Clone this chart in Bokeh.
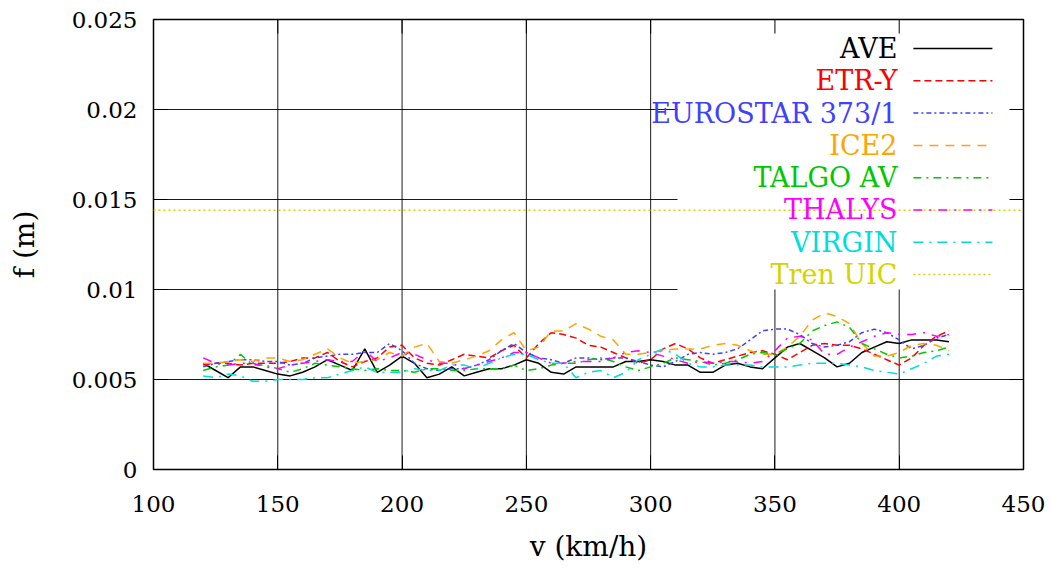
from bokeh.plotting import figure
from bokeh.models import Range1d, FixedTicker
from bokeh.core.properties import value
from bokeh.embed import file_html
from bokeh.resources import INLINE

# ---------------- data ----------------
speed = list(range(120, 425, 5))  # v (km/h)

ave = [0.0059, 0.0055, 0.0051, 0.0057, 0.0057, 0.0055, 0.0053, 0.0052, 0.0054, 0.0057,
       0.0061, 0.0058, 0.0055, 0.0067, 0.0054, 0.0058, 0.0063, 0.0059, 0.0051, 0.0053,
       0.0057, 0.0052, 0.0054, 0.0056, 0.0056, 0.0058, 0.0061, 0.0059, 0.0054, 0.0053,
       0.0057, 0.0057, 0.0057, 0.0057, 0.0060, 0.0060, 0.0061, 0.0060, 0.0058, 0.0058,
       0.0054, 0.0054, 0.0058, 0.0059, 0.0057, 0.0056, 0.0062, 0.0068, 0.0070, 0.0066,
       0.0062, 0.0057, 0.0059, 0.0065, 0.0068, 0.0071, 0.0070, 0.0072, 0.0072, 0.0072,
       0.0071]
etr_y = [0.0058, 0.0059, 0.0059, 0.0058, 0.0059, 0.0059, 0.0059, 0.0060, 0.0062, 0.0062,
         0.0065, 0.0060, 0.0057, 0.0060, 0.0062, 0.0068, 0.0069, 0.0062, 0.0059, 0.0058,
         0.0061, 0.0064, 0.0063, 0.0062, 0.0066, 0.0069, 0.0062, 0.0070, 0.0076, 0.0075,
         0.0073, 0.0069, 0.0068, 0.0065, 0.0062, 0.0059, 0.0061, 0.0067, 0.0070, 0.0067,
         0.0062, 0.0059, 0.0061, 0.0063, 0.0065, 0.0066, 0.0064, 0.0061, 0.0065, 0.0069,
         0.0070, 0.0069, 0.0069, 0.0067, 0.0064, 0.0061, 0.0058, 0.0062, 0.0069, 0.0074,
         0.0077]
eurostar = [0.0057, 0.0059, 0.0060, 0.0061, 0.0061, 0.0060, 0.0060, 0.0058, 0.0059, 0.0062,
            0.0063, 0.0064, 0.0064, 0.0065, 0.0065, 0.0070, 0.0066, 0.0059, 0.0056, 0.0055,
            0.0056, 0.0056, 0.0058, 0.0061, 0.0066, 0.0070, 0.0065, 0.0062, 0.0061, 0.0059,
            0.0062, 0.0062, 0.0061, 0.0062, 0.0062, 0.0060, 0.0058, 0.0057, 0.0060, 0.0064,
            0.0065, 0.0064, 0.0065, 0.0067, 0.0072, 0.0077, 0.0078, 0.0078, 0.0075, 0.0070,
            0.0068, 0.0069, 0.0071, 0.0076, 0.0078, 0.0076, 0.0072, 0.0067, 0.0069, 0.0073,
            0.0075]
ice2 = [0.0059, 0.0059, 0.0060, 0.0061, 0.0060, 0.0062, 0.0062, 0.0060, 0.0061, 0.0064,
        0.0067, 0.0062, 0.0059, 0.0060, 0.0061, 0.0065, 0.0063, 0.0068, 0.0070, 0.0060,
        0.0059, 0.0061, 0.0063, 0.0066, 0.0072, 0.0076, 0.0066, 0.0068, 0.0077, 0.0077,
        0.0081, 0.0078, 0.0074, 0.0072, 0.0064, 0.0064, 0.0065, 0.0066, 0.0067, 0.0067,
        0.0067, 0.0069, 0.0070, 0.0069, 0.0066, 0.0064, 0.0064, 0.0068, 0.0074, 0.0083,
        0.0087, 0.0085, 0.0081, 0.0070, 0.0063, 0.0063, 0.0065, 0.0069, 0.0070, 0.0069,
        0.0066]
talgo = [0.0055, 0.0057, 0.0058, 0.0064, 0.0058, 0.0058, 0.0056, 0.0054, 0.0056, 0.0059,
         0.0058, 0.0057, 0.0056, 0.0055, 0.0056, 0.0055, 0.0055, 0.0054, 0.0056, 0.0056,
         0.0055, 0.0055, 0.0056, 0.0056, 0.0056, 0.0058, 0.0055, 0.0056, 0.0058, 0.0059,
         0.0059, 0.0061, 0.0062, 0.0060, 0.0057, 0.0055, 0.0057, 0.0059, 0.0062, 0.0061,
         0.0060, 0.0058, 0.0059, 0.0061, 0.0064, 0.0065, 0.0064, 0.0067, 0.0070, 0.0077,
         0.0080, 0.0082, 0.0079, 0.0070, 0.0067, 0.0064, 0.0062, 0.0063, 0.0065, 0.0066,
         0.0068]
thalys = [0.0062, 0.0059, 0.0058, 0.0059, 0.0059, 0.0057, 0.0056, 0.0058, 0.0059, 0.0060,
          0.0061, 0.0060, 0.0060, 0.0066, 0.0060, 0.0062, 0.0065, 0.0064, 0.0061, 0.0059,
          0.0059, 0.0056, 0.0058, 0.0060, 0.0062, 0.0065, 0.0065, 0.0062, 0.0059, 0.0059,
          0.0060, 0.0060, 0.0060, 0.0062, 0.0065, 0.0066, 0.0065, 0.0063, 0.0061, 0.0059,
          0.0060, 0.0059, 0.0060, 0.0060, 0.0059, 0.0060, 0.0066, 0.0073, 0.0074, 0.0072,
          0.0064, 0.0064, 0.0068, 0.0071, 0.0074, 0.0076, 0.0075, 0.0075, 0.0076, 0.0074,
          0.0075]
virgin = [0.0052, 0.0051, 0.0053, 0.0052, 0.0049, 0.0049, 0.0050, 0.0050, 0.0050, 0.0051,
          0.0051, 0.0053, 0.0055, 0.0057, 0.0054, 0.0054, 0.0054, 0.0056, 0.0055, 0.0055,
          0.0058, 0.0058, 0.0056, 0.0059, 0.0062, 0.0064, 0.0064, 0.0061, 0.0059, 0.0059,
          0.0051, 0.0054, 0.0055, 0.0051, 0.0054, 0.0061, 0.0064, 0.0067, 0.0064, 0.0059,
          0.0057, 0.0057, 0.0058, 0.0058, 0.0058, 0.0057, 0.0057, 0.0057, 0.0058, 0.0059,
          0.0059, 0.0059, 0.0058, 0.0057, 0.0055, 0.0054, 0.0053, 0.0056, 0.0059, 0.0063,
          0.0064]
uic_speed = [100, 450]
uic_f = [0.0144, 0.0144]

names = ["AVE", "ETR-Y", "EUROSTAR 373/1", "ICE2", "TALGO AV", "THALYS", "VIRGIN", "Tren UIC"]
series = [ave, etr_y, eurostar, ice2, talgo, thalys, virgin]
colors = ["#000000", "#ff0000", "#4040ff", "#ffa500", "#00c800", "#ff00ff", "#00dddd", "#d4d400"]
dashes = ["solid", "7 4", "5 3 2 3", "9 7", "8 5 2 5", "9 7 2 7", "10 6 2 6", "2 3"]

x_ticks = [100, 150, 200, 250, 300, 350, 400, 450]
y_ticks = [0, 0.005, 0.01, 0.015, 0.02, 0.025]
y_tick_labels = ["0", "0.005", "0.01", "0.015", "0.02", "0.025"]
x_title = "v (km/h)"
y_title = "f (m)"

FONT = "DejaVu Serif"

# ---------------- figure ----------------
X0, X1, Y0, Y1 = 100, 450, 0, 0.025
p = figure(width=1051, height=571, x_range=Range1d(X0, X1), y_range=Range1d(Y0, Y1),
           output_backend="svg", toolbar_location=None,
           min_border_left=153, min_border_right=28, min_border_top=19, min_border_bottom=102)
p.xgrid.visible = False
p.ygrid.visible = False
p.outline_line_color = "black"
p.outline_line_width = 1.5
p.background_fill_color = "white"
p.border_fill_color = "white"

for ax in (p.xaxis[0], p.yaxis[0]):
    ax.axis_line_color = None
    ax.major_tick_in = 14
    ax.major_tick_out = 0
    ax.minor_tick_line_color = None
    ax.major_tick_line_color = "black"
    ax.major_label_text_font = FONT
    ax.major_label_text_font_size = "23px"
    ax.major_label_text_color = "black"
    ax.axis_label_text_font = FONT
    ax.axis_label_text_font_size = "28px"
    ax.axis_label_text_font_style = "normal"
    ax.axis_label_text_color = "black"

xb = p.xaxis[0]
xb.ticker = FixedTicker(ticks=x_ticks)
xb.major_label_standoff = 26
xb.axis_label = x_title
xb.axis_label_standoff = 15

yl = p.yaxis[0]
yl.ticker = FixedTicker(ticks=y_ticks)
yl.major_label_overrides = {t: s for t, s in zip(y_ticks, y_tick_labels)}
yl.major_label_standoff = 16
yl.axis_label = y_title
yl.axis_label_standoff = 28

# mirrored inward ticks on top and right
tick_dx = 14 / (870 / (X1 - X0))
tick_dy = 14 / (450 / (Y1 - Y0))
p.segment(x0=x_ticks, x1=x_ticks, y0=[Y1] * len(x_ticks), y1=[Y1 - tick_dy] * len(x_ticks),
          line_color="black", line_width=1)
p.segment(x0=[X1] * len(y_ticks), x1=[X1 - tick_dx] * len(y_ticks), y0=y_ticks, y1=y_ticks,
          line_color="black", line_width=1)

# grid (interrupted behind the key box)
key_left = 310.8
key_bottom = 0.01
gx = x_ticks[1:-1]
gx_top = [Y1 if t < key_left else key_bottom for t in gx]
p.segment(x0=gx, x1=gx, y0=[Y0] * len(gx), y1=gx_top, line_color="black", line_width=0.9)
gy = y_ticks[1:-1]
gy_right = [X1 if t < key_bottom else key_left for t in gy]
p.segment(x0=[X0] * len(gy), x1=gy_right, y0=gy, y1=gy, line_color="black", line_width=0.9)

# data lines
for s, c, d in zip(series, colors[:7], dashes[:7]):
    p.line(speed, s, line_color=c, line_dash=d, line_width=1.5)
p.line(uic_speed, uic_f, line_color=colors[7], line_dash=dashes[7], line_width=1.5)

# key
row0 = 0.02339
row_step = 0.0017944
rows = [row0 - i * row_step for i in range(len(names))]
p.text(x=[399.3] * len(names), y=rows, text=names, text_color=colors,
       text_align="right", text_baseline="middle",
       text_font=value(FONT), text_font_size="27px")
for r, c, d in zip(rows, colors, dashes):
    p.segment(x0=[405.7], x1=[437.5], y0=[r], y1=[r], line_color=c, line_dash=d, line_width=1.5)

open("out.html", "w").write(file_html(p, INLINE))
